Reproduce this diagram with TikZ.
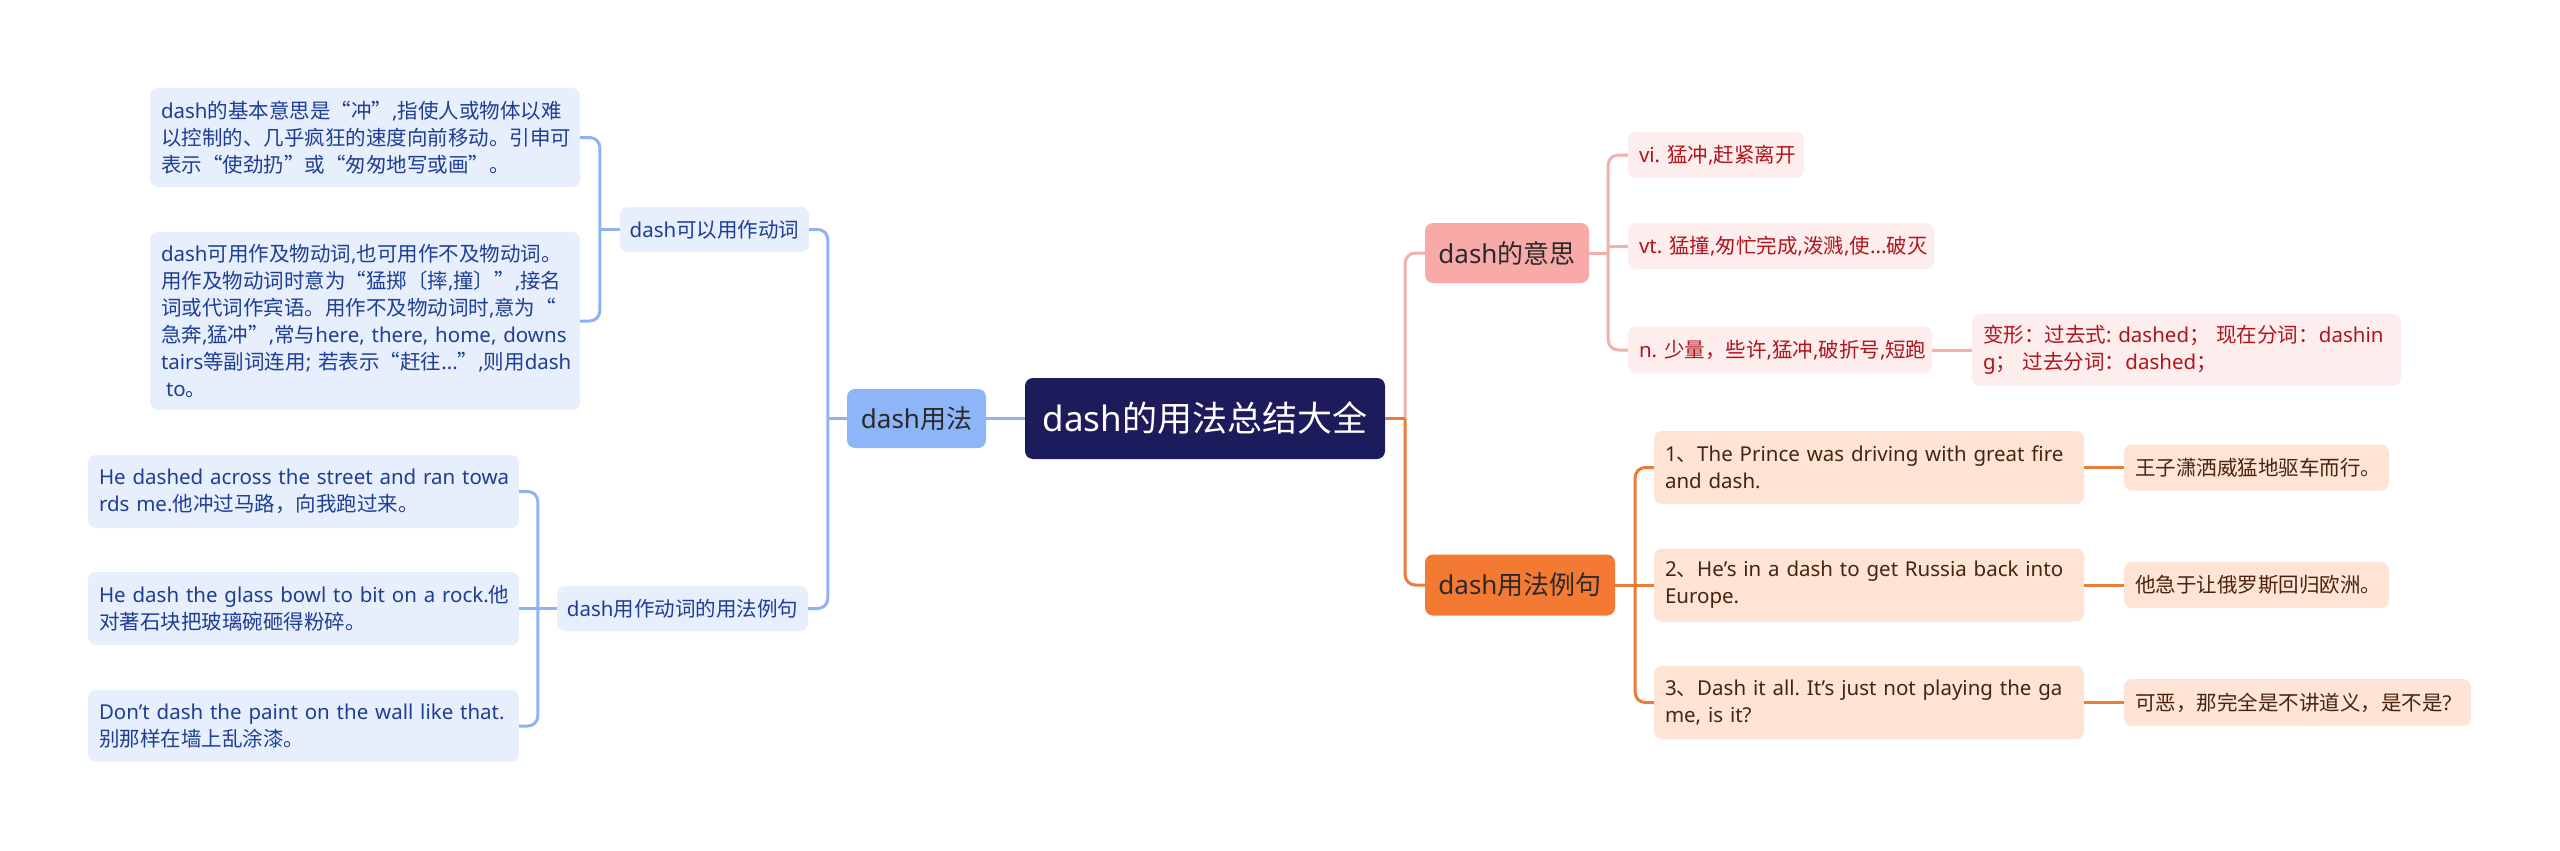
\documentclass[tikz,border=0pt]{standalone}
\usepackage{fontspec}
\setmainfont{Noto Sans}
\newfontfamily\cjkfont{Noto Sans CJK SC}
\XeTeXinterchartokenstate=1
\newXeTeXintercharclass\CJKclass
\newcount\cjkcnt
\def\setcjkrange#1#2{\cjkcnt=#1\relax
  \loop\XeTeXcharclass\cjkcnt=\CJKclass
  \ifnum\cjkcnt<#2\relax\advance\cjkcnt by 1\repeat}
\setcjkrange{"3000}{"303F}
\setcjkrange{"4E00}{"9FFF}
\setcjkrange{"FF00}{"FFEF}
\XeTeXcharclass"201C=\CJKclass
\XeTeXcharclass"201D=\CJKclass
\XeTeXinterchartoks 0 \CJKclass={\cjkfont}
\XeTeXinterchartoks 4095 \CJKclass={\cjkfont}
\XeTeXinterchartoks \CJKclass 0={\normalfont}
\XeTeXinterchartoks \CJKclass 4095={\normalfont}
\newcommand\lnx[1]{\mbox{#1}}
\frenchspacing

\definecolor{rootfill}{HTML}{1C1B5B}
\definecolor{yffill}{HTML}{8DB5F8}
\definecolor{bluebox}{HTML}{E7EEFC}
\definecolor{bluetext}{HTML}{1D3E95}
\definecolor{blueline}{HTML}{8FB3F0}
\definecolor{meanfill}{HTML}{F8AAA8}
\definecolor{pinkbox}{HTML}{FDEDED}
\definecolor{pinktext}{HTML}{B0141C}
\definecolor{pinkline}{HTML}{F2AFAE}
\definecolor{usefill}{HTML}{F47A33}
\definecolor{orgbox}{HTML}{FDE4D4}
\definecolor{orgtext}{HTML}{4A230C}
\definecolor{orgline}{HTML}{EE7A37}
\definecolor{darktext}{HTML}{2A2A2A}

\begin{document}
\begin{tikzpicture}[x=1pt,y=-1pt,
  box/.style={rounded corners=8pt, inner xsep=4pt, inner ysep=2pt, align=center, anchor=center},
  sz/.style 2 args={minimum width=#1pt, minimum height=#2pt},
  lf/.style 2 args={inner xsep=11pt, text width=#1pt-22pt, minimum height=#2pt, align=left},
  small/.style={font=\fontsize{20.5}{27}\selectfont\frenchspacing},
  rootbox/.style={box, fill=rootfill, text=white, font=\fontsize{35}{42}\selectfont},
  lvone/.style={box, font=\fontsize{26}{32}\selectfont},
  bbox/.style={box, small, fill=bluebox, text=bluetext},
  pbox/.style={box, small, fill=pinkbox, text=pinktext},
  obox/.style={box, small, fill=orgbox, text=orgtext},
  bl/.style={draw=blueline, line width=3pt},
  pl/.style={draw=pinkline, line width=3pt},
  ol/.style={draw=orgline, line width=3pt},
  rc/.style={rounded corners=10pt}
]
\useasboundingbox (0,0) rectangle (2560,851);
\fill[white] (0,0) rectangle (2560,851);

% root
\node[rootbox, sz={360}{81}] (root) at (1205,418.5) {dash的用法总结大全};

% left branch
\node[lvone, sz={139}{59}, fill=yffill, text=darktext] (yf) at (916.5,418.5) {dash用法};
\node[bbox, sz={189}{45}] (kv) at (714.5,229.5) {dash可以用作动词};
\node[bbox, lf={430}{99}] (L1) at (365,137.5) {\lnx{dash的基本意思是“冲”,指使人或物体以难}\\\lnx{以控制的、几乎疯狂的速度向前移动。引申可}\\\lnx{表示“使劲扔”或“匆匆地写或画”。}};
\node[bbox, lf={430}{178}] (L2) at (365,321) {\lnx{dash可用作及物动词,也可用作不及物动词。}\\\lnx{用作及物动词时意为“猛掷〔摔,撞〕”,接名}\\\lnx{词或代词作宾语。用作不及物动词时,意为“}\\\lnx{急奔,猛冲”,常与here, there, home, downs}\\\lnx{tairs等副词连用; 若表示“赶往...”,则用dash}\\\lnx{\hspace*{5pt}to。}};
\node[bbox, sz={251}{45}] (ex) at (682.5,608.5) {dash用作动词的用法例句};
\node[bbox, lf={431}{73}] (L3) at (303.5,491.5) {\lnx{He dashed across the street and ran towa}\\\lnx{rds me.他冲过马路，向我跑过来。}};
\node[bbox, lf={431}{73}] (L4) at (303.5,608.5) {\lnx{He dash the glass bowl to bit on a rock.他}\\\lnx{对著石块把玻璃碗砸得粉碎。}};
\node[bbox, lf={431}{72}] (L5) at (303.5,726) {\lnx{Don't dash the paint on the wall like that.}\\\lnx{别那样在墙上乱涂漆。}};

% right branch: meaning
\node[lvone, sz={164}{60}, fill=meanfill, text=darktext] (mean) at (1507,253) {dash的意思};
\node[pbox, lf={176}{46}] (vi) at (1716,155) {\lnx{vi. 猛冲,赶紧离开}};
\node[pbox, lf={306}{46}] (vt) at (1781,246) {\lnx{vt. 猛撞,匆忙完成,泼溅,使...破灭}};
\node[pbox, lf={304}{47}] (nn) at (1780,350) {\lnx{n. 少量，些许,猛冲,破折号,短跑}};
\node[pbox, lf={429}{72}] (bx) at (2186.5,350) {\lnx{变形：过去式: dashed； 现在分词：dashin}\\\lnx{g； 过去分词：dashed；}};

% right branch: examples
\node[lvone, sz={190}{61}, fill=usefill, text=darktext] (use) at (1520,585) {dash用法例句};
\node[obox, lf={430}{73}] (e1) at (1869,467.5) {\lnx{1、The Prince was driving with great fire}\\\lnx{and dash.}};
\node[obox, lf={265}{46}] (c1) at (2256.5,467.5) {\lnx{王子潇洒威猛地驱车而行。}};
\node[obox, lf={430}{73}] (e2) at (1869,585) {\lnx{2、He's in a dash to get Russia back into}\\\lnx{Europe.}};
\node[obox, lf={265}{46}] (c2) at (2256.5,585) {\lnx{他急于让俄罗斯回归欧洲。}};
\node[obox, lf={430}{73}] (e3) at (1869,702.5) {\lnx{3、Dash it all. It's just not playing the ga}\\\lnx{me, is it?}};
\node[obox, lf={347}{47}] (c3) at (2297.5,702.5) {\lnx{可恶，那完全是不讲道义，是不是?}};

% connectors left
\draw[bl] (root.west) -- (yf.east);
\coordinate (ys) at ([xshift=-19pt]yf.west);
\draw[bl] (yf.west) -- (ys);
\draw[bl, rc] (ys) |- (kv.east);
\draw[bl, rc] (ys) |- (ex.east);
\coordinate (ks) at ([xshift=-20pt]kv.west);
\draw[bl] (kv.west) -- (ks);
\draw[bl, rc] (ks) |- (L1.east);
\draw[bl, rc] (ks) |- (L2.east);
\coordinate (es) at ([xshift=-19pt]ex.west);
\draw[bl] (ex.west) -- (L4.east);
\draw[bl, rc] (es) |- (L3.east);
\draw[bl, rc] (es) |- (L5.east);

% connectors right
\coordinate (rs) at ([xshift=20pt]root.east);
\draw[pl, rc] (rs) |- (mean.west);
\draw[ol] (root.east) -- (rs);
\draw[ol, rc] (rs) |- (use.west);

\coordinate (ms) at ([xshift=19pt]mean.east);
\draw[pl] (mean.east) -- (ms);
\draw[pl, rc] (ms) |- (vi.west);
\draw[pl] (ms |- vt.west) -- (vt.west);
\draw[pl, rc] (ms) |- (nn.west);
\draw[pl] (nn.east) -- (bx.west);

\coordinate (us) at ([xshift=20pt]use.east);
\draw[ol] (use.east) -- (e2.west);
\draw[ol, rc] (us) |- (e1.west);
\draw[ol, rc] (us) |- (e3.west);
\draw[ol] (e1.east) -- (c1.west);
\draw[ol] (e2.east) -- (c2.west);
\draw[ol] (e3.east) -- (c3.west);
\end{tikzpicture}
\end{document}
